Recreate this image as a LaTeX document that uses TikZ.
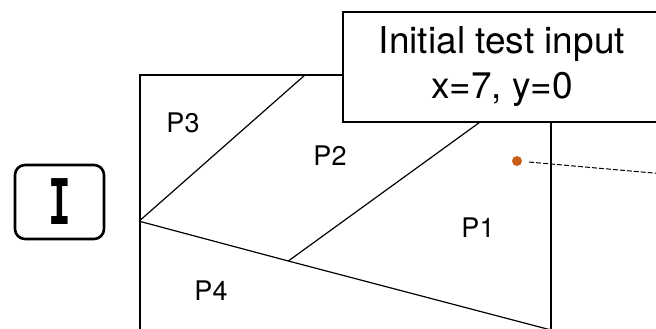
\documentclass[tikz,border=0pt]{standalone}
\usepackage{fontspec}
\setmainfont{TeX Gyre Heros}
\newfontfamily\iconfont{DejaVu Sans Mono}
\begin{document}
\begin{tikzpicture}[x=1pt,y=-1pt,
  frame/.style={line width=2.8pt, line join=miter},
  cut/.style={line width=1.2pt},
  region/.style={font=\fontsize{27}{32}\selectfont, inner sep=0pt},
  dotc/.style={fill={rgb,255:red,200;green,96;blue,26}}]
\useasboundingbox (0,0) rectangle (656,329);
\clip (0,0) rectangle (656,329);

% corners of the input domain (its bottom lies below the visible area)
\coordinate (tl) at (140,75);
\coordinate (tr) at (551,75);
\coordinate (bl) at (140,345);
\coordinate (br) at (551,345);

% partition boundaries
\coordinate (a) at (141,219.5);   % P3 | P4 split on left edge
\coordinate (b) at (305,75);      % P3 | P2 split on top edge
\coordinate (j) at (288.3,261);   % junction of P2, P1, P4
\coordinate (e) at (545,75);      % P2 | P1 line end (under the callout)
\coordinate (f) at (551,330);     % P4 | P1 line end

\draw[cut] (a) -- (b);
\draw[cut] (141,221.7) -- (j) -- (f);
\draw[cut] (j) -- (e);

\draw[frame] (bl) -- (tl) -- (tr) -- (br);

\node[region] (p3) at (183,123) {P3};
\node[region] (p2) at (330,156) {P2};
\node[region] (p1) at (478,228) {P1};
\node[region] (p4) at (211,291) {P4};

% test input point with its dashed leader
\node[circle, dotc, inner sep=0pt, minimum size=10pt] (pt) at (517,161) {};
\coordinate (lead) at (660,173.6);
\draw[line width=1pt, dash pattern=on 5pt off 2pt, shorten <=7pt] (pt) -- (lead);

% callout box
\draw[frame, fill=white] (343,12) rectangle (664,122);
\node[align=center, font=\fontsize{37}{45}\selectfont, inner sep=0pt] (call) at (502,67)
  {Initial test input\\x=7, y=0};

% input icon
\node[draw, line width=2.6pt, rounded corners=10pt, minimum width=89pt,
  minimum height=74pt, inner sep=0pt] (icon) at (59.5,202)
  {\scalebox{0.6}[1]{\iconfont\bfseries\fontsize{63}{63}\selectfont I}};
\end{tikzpicture}
\end{document}
